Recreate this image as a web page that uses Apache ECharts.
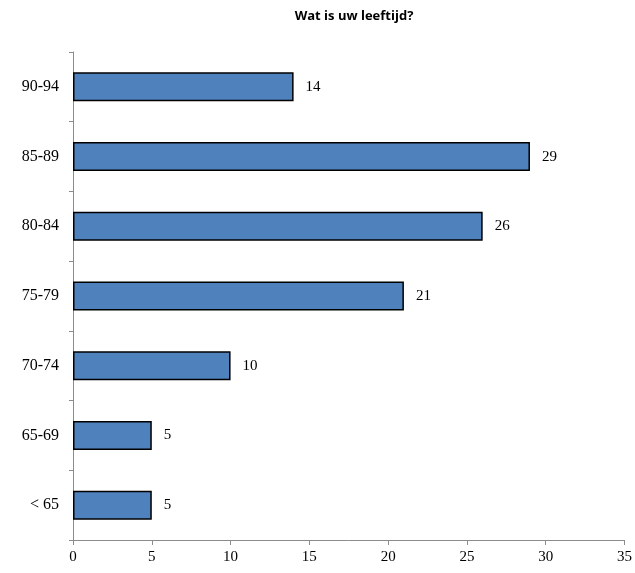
<!DOCTYPE html>
<html>
<head>
<meta charset="utf-8">
<script src="https://cdn.jsdelivr.net/npm/echarts@6/dist/echarts.min.js"></script>
<style>
  html, body { margin: 0; padding: 0; background: #fff; }
  #chart { width: 635px; height: 573px; }
</style>
</head>
<body>
<div id="chart"></div>
<script>
// Age groups, listed bottom to top as the category axis draws them
const ageGroups = ['< 65', '65-69', '70-74', '75-79', '80-84', '85-89', '90-94'];
const respondents = [5, 5, 10, 21, 26, 29, 14];
const xTicks = { min: 0, max: 35, interval: 5 };

const serif = '"Liberation Serif", "DejaVu Serif", serif';
const axisGray = '#8c8c8c';

const chart = echarts.init(document.getElementById('chart'), null, { renderer: 'canvas' });
chart.setOption({
  animation: false,
  backgroundColor: '#ffffff',
  title: {
    text: 'Wat is uw leeftijd?',
    left: 349,
    top: 5,
    textAlign: 'center',
    textStyle: { fontFamily: '"Open Sans", sans-serif', fontWeight: 'bold', fontSize: 13, color: '#000' }
  },
  grid: { left: 73, right: 7, top: 52, bottom: 33, containLabel: false },
  xAxis: {
    type: 'value',
    min: xTicks.min,
    max: xTicks.max,
    interval: xTicks.interval,
    splitLine: { show: false },
    axisLine: { show: true, lineStyle: { color: axisGray, width: 1 } },
    axisTick: { show: true, length: 5, lineStyle: { color: axisGray } },
    axisLabel: { fontFamily: serif, fontSize: 15, color: '#000', margin: 10 }
  },
  yAxis: {
    type: 'category',
    data: ageGroups,
    axisLine: { show: true, lineStyle: { color: axisGray, width: 1 } },
    axisTick: { show: true, length: 4, alignWithLabel: false, lineStyle: { color: axisGray } },
    axisLabel: { fontFamily: serif, fontSize: 16, color: '#000', margin: 14 }
  },
  series: [{
    type: 'bar',
    data: respondents,
    barWidth: 29,
    itemStyle: { color: '#4f81bd', borderColor: '#000', borderWidth: 1.5 },
    label: {
      show: true,
      position: 'right',
      distance: 12,
      fontFamily: serif,
      fontSize: 15,
      color: '#000'
    }
  }]
});
</script>
</body>
</html>
